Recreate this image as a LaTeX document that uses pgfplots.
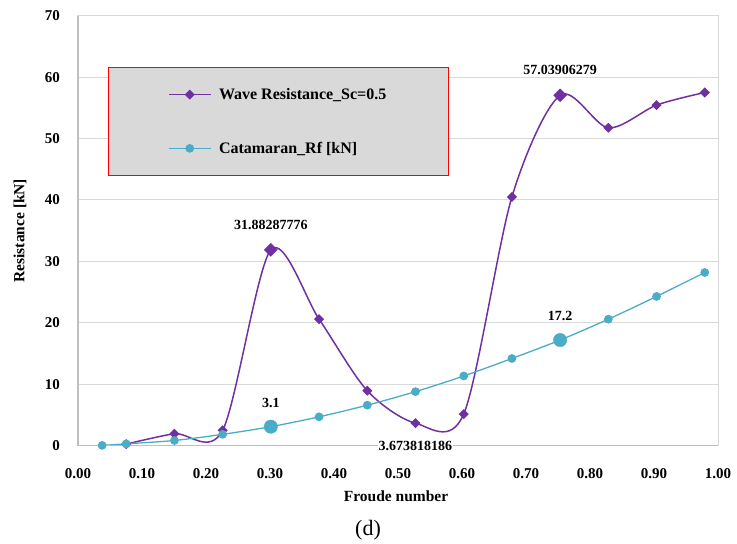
\documentclass[border=0pt]{standalone}
\usepackage{pgfplots}
\pgfplotsset{compat=1.18}
\usepackage{fontspec}
\setmainfont{Liberation Serif}
\definecolor{wpurple}{HTML}{7030A0}
\definecolor{wcyan}{HTML}{4BACC6}
\definecolor{gridg}{HTML}{D9D9D9}
\definecolor{axg}{HTML}{BFBFBF}
\definecolor{legg}{HTML}{D9D9D9}
\begin{document}
\begin{tikzpicture}
\path[use as bounding box] (-78pt,-98.3pt) rectangle (659pt,445.7pt);
\begin{axis}[
  at={(0pt,0pt)}, anchor=south west,
  width=640pt, height=430pt, scale only axis,
  xmin=0, xmax=1, ymin=0, ymax=70,
  xtick={0,0.1,...,1.01}, ytick={0,10,...,70},
  xticklabel={\pgfmathprintnumber[fixed,fixed zerofill,precision=2]{\tick}},
  /pgf/number format/assume math mode=true,
  ticklabel style={font=\bfseries\fontsize{15}{15}\selectfont},
  xticklabel style={anchor=center, yshift=-28pt},
  yticklabel style={anchor=east, inner sep=0pt, xshift=-18pt},
  major tick length=0pt,
  ymajorgrids, grid style={gridg, line width=1pt},
  axis line style={gridg, line width=1pt},
  clip=false,
  every axis x label/.style={at={(axis description cs:0.497,-0.1186)}, anchor=center},
  every axis y label/.style={at={(axis description cs:-0.0906,0.5)}, rotate=90, anchor=center},
  xlabel={Froude number}, ylabel={Resistance [kN]},
  label style={font=\bfseries\fontsize{15.5}{15.5}\selectfont},
  legend style={at={(axis description cs:0.0469,0.881)}, anchor=north west,
    draw=red, line width=1pt, fill=legg, inner xsep=60pt, inner ysep=19pt,
    row sep=37pt, column sep=6pt, font=\bfseries\fontsize{16}{16}\selectfont,
    nodes={inner sep=2pt}},
  legend cell align=left,
  legend image code/.code={\draw[mark repeat=2,mark phase=2,#1] plot coordinates {(0pt,0pt) (20.5pt,0pt) (41pt,0pt)};},
]
\addplot[wpurple, line width=1.5pt, smooth, mark=square*, mark size=2.8pt, mark options={rotate=45, solid}] coordinates {
(0.0753,0.25) (0.1507,1.95) (0.2260,2.5) (0.3013,31.88) (0.3767,20.6) (0.4520,8.95)
(0.5273,3.67) (0.6027,5.15) (0.6780,40.5) (0.7533,57.04) (0.8287,51.75) (0.9040,55.45) (0.9793,57.5)};
\addlegendentry{Wave Resistance\_Sc=0.5}
\addplot[wcyan, line width=1.3pt, smooth, mark=*, mark size=3.7pt] coordinates {
(0.0377,0.05) (0.0753,0.3) (0.1507,0.85) (0.2260,1.85) (0.3013,3.1) (0.3767,4.7) (0.4520,6.6)
(0.5273,8.8) (0.6027,11.35) (0.6780,14.2) (0.7533,17.2) (0.8287,20.6) (0.9040,24.3) (0.9793,28.2)};
\addlegendentry{Catamaran\_Rf [kN]}
\addplot[forget plot, only marks, wpurple, mark=square*, mark size=4.6pt, mark options={rotate=45},
  point meta=explicit symbolic, nodes near coords,
  every node near coord/.style={black, anchor=center, yshift=25pt, font=\bfseries\fontsize{14}{14}\selectfont}]
  coordinates {(0.3013,31.88)[31.88287776] (0.7533,57.04)[57.03906279]};
\addplot[forget plot, only marks, wcyan, mark=*, mark size=6.7pt,
  point meta=explicit symbolic, nodes near coords,
  every node near coord/.style={black, anchor=center, yshift=24pt, font=\bfseries\fontsize{14}{14}\selectfont}]
  coordinates {(0.3013,3.1)[3.1] (0.7533,17.2)[17.2]};
\addplot[forget plot, draw=none, mark=none,
  point meta=explicit symbolic, nodes near coords,
  every node near coord/.style={black, fill=white, text=black, anchor=center, yshift=-22.7pt, inner sep=1pt, font=\bfseries\fontsize{14}{14}\selectfont}]
  coordinates {(0.5273,3.67)[3.673818186]};
\draw[axg, line width=1.4pt] (axis cs:0,70) -- (axis cs:0,0) -- (axis cs:1,0);
\end{axis}
\node[font=\fontsize{22}{22}\selectfont] at (290pt,-84.3pt) {(d)};
\end{tikzpicture}
\end{document}
